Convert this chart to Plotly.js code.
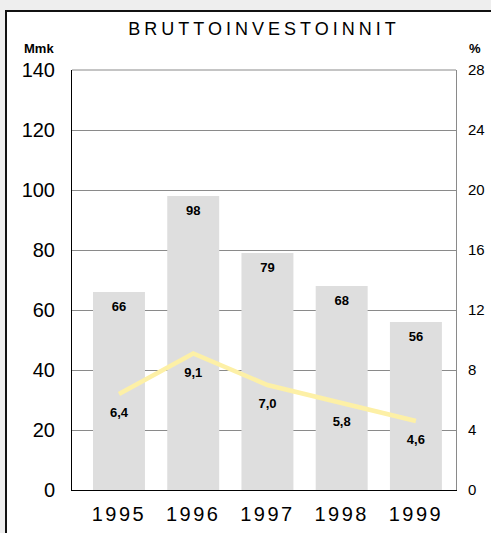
<!DOCTYPE html>
<html><head><meta charset="utf-8">
<script src="https://cdn.plot.ly/plotly-3.0.1.min.js"></script>
<style>
html,body{margin:0;padding:0;background:#eeeeee;width:491px;height:533px;overflow:hidden;}
#frame{position:absolute;left:5px;top:10px;width:486px;height:523px;background:#fff;border-left:2px solid #111;border-top:2px solid #111;box-sizing:border-box;}
#chart{width:484px;height:521px;}
.xtick text{letter-spacing:2.5px;}
.gtitle{letter-spacing:4px;}
</style></head><body><div id="frame"><div id="chart"></div></div>
<script>
const years = ['1995','1996','1997','1998','1999'];
const investments = [66, 98, 79, 68, 56];
const investmentLabels = ['66','98','79','68','56'];
const shares = [6.4, 9.1, 7.0, 5.8, 4.6];
const shareLabels = ['6,4','9,1','7,0','5,8','4,6'];
const leftTicks = [0,20,40,60,80,100,120,140];
const rightTicks = [0,4,8,12,16,20,24,28];

const FONT = 'Liberation Sans, Arial, sans-serif';

const traces = [
  {type:'bar', x:years, y:investments, marker:{color:'#dedede'}, width:0.7, hoverinfo:'skip', textposition:'none'},
  {type:'scatter', mode:'lines', x:years, y:shares, yaxis:'y2', line:{color:'#fdf0a6', width:4.5}, hoverinfo:'skip'},
  {type:'scatter', mode:'markers+text', x:years, y:investments, text:investmentLabels.map(s=>'<b>'+s+'</b>'), textposition:'bottom center',
   marker:{size:13, color:'rgba(0,0,0,0)'}, textfont:{family:FONT,size:13,color:'#000'}, hoverinfo:'skip', cliponaxis:false},
  {type:'scatter', mode:'markers+text', x:years, y:shares, yaxis:'y2', text:shareLabels.map(s=>'<b>'+s+'</b>'), textposition:'bottom center',
   marker:{size:20, color:'rgba(0,0,0,0)'}, textfont:{family:FONT,size:13,color:'#000'}, hoverinfo:'skip', cliponaxis:false}
];

const annotations = [
  {xref:'paper', yref:'paper', x:-0.13, y:1.05, xanchor:'left', yanchor:'middle', text:'<b>Mmk</b>', showarrow:false, font:{family:FONT,size:13,color:'#000'}},
  {xref:'paper', yref:'paper', x:1.028, y:1.05, xanchor:'left', yanchor:'middle', text:'<b>%</b>', showarrow:false, font:{family:FONT,size:13,color:'#000'}}
];

const layout = {
  width:484, height:521,
  margin:{l:65, r:35, t:58, b:43},
  paper_bgcolor:'#ffffff', plot_bgcolor:'#ffffff',
  showlegend:false,
  title:{text:'BRUTTOINVESTOINNIT', x:0.5, xref:'paper', xanchor:'center', y:1-17/521, yref:'container', yanchor:'middle', font:{family:FONT,size:18,color:'#000'}},
  xaxis:{type:'category', range:[-0.633,4.54], showgrid:false, showline:true, linecolor:'#000', linewidth:1, ticks:'', ticklabelstandoff:6, tickfont:{family:FONT,size:20,color:'#000'}, fixedrange:true},
  yaxis:{range:[0,140], tickvals:leftTicks, ticktext:leftTicks.map(String), showgrid:true, gridcolor:'#8a8a8a', gridwidth:1, zeroline:false, showline:true, linecolor:'#000', linewidth:1, ticks:'', ticklabelstandoff:12, tickfont:{family:FONT,size:20,color:'#000'}, fixedrange:true},
  yaxis2:{overlaying:'y', side:'right', range:[0,28], tickvals:rightTicks, ticktext:rightTicks.map(String), showgrid:false, zeroline:false, showline:true, linecolor:'#8a8a8a', linewidth:1, ticks:'', ticklabelstandoff:8, tickfont:{family:FONT,size:15,color:'#000'}, fixedrange:true},
  annotations:annotations,
  shapes:[{type:'line', xref:'paper', yref:'paper', x0:0, x1:1, y0:1, y1:1, line:{color:'#8a8a8a', width:1}}]
};

Plotly.newPlot('chart', traces, layout, {staticPlot:true, displayModeBar:false});
</script></body></html>
